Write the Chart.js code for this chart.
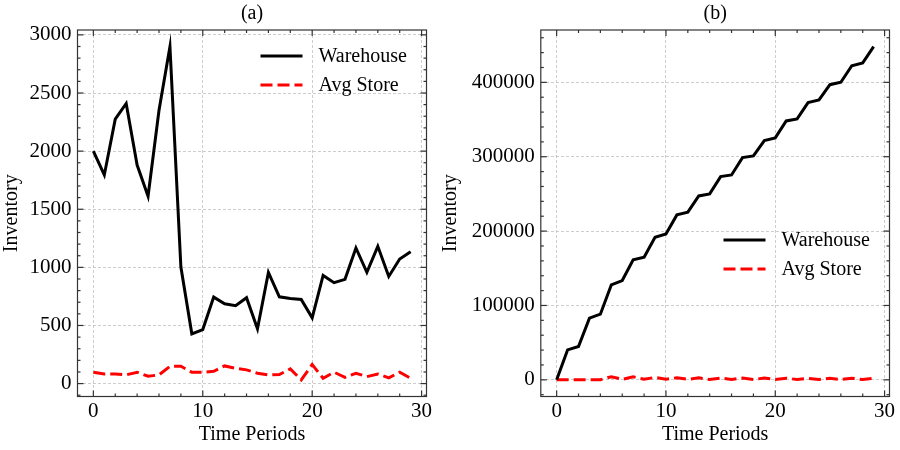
<!DOCTYPE html>
<html>
<head>
<meta charset="utf-8">
<script src="https://cdn.jsdelivr.net/npm/chart.js@4.4.0/dist/chart.umd.min.js"></script>
<style>
  html, body { margin: 0; padding: 0; background: #fff; }
  #wrap { position: relative; width: 900px; height: 450px; overflow: hidden; }
  .box { position: absolute; top: 0; height: 450px; }
</style>
</head>
<body>
<div id="wrap">
  <div class="box" style="left:0; width:450px"><canvas id="chartA" width="450" height="450"></canvas></div>
  <div class="box" style="left:430px; width:470px"><canvas id="chartB" width="470" height="450"></canvas></div>
</div>
<script>
// ---------- Data ----------
const periods = [0, 1, 2, 3, 4, 5, 6, 7, 8, 9, 10, 11, 12, 13, 14, 15, 16, 17, 18, 19, 20, 21, 22, 23, 24, 25, 26, 27, 28, 29];
const seriesNames = ['Warehouse', 'Avg Store'];
const panelTitles = ['(a)', '(b)'];

const warehouseA = [2000, 1795, 2275, 2410, 1880, 1612, 2352, 2899, 1003, 428, 465, 744, 687, 670, 739, 471,
                    957, 747, 733, 724, 566, 931, 868, 897, 1167, 957, 1181, 922, 1072, 1135];
const avgStoreA = [98, 83, 83, 75, 98, 63, 75, 149, 149, 98, 98, 106, 152, 132, 118, 89,
                   75, 78, 126, 32, 164, 46, 98, 54, 89, 60, 83, 49, 98, 46];

const warehouseB = [0, 40300, 44800, 82900, 88300, 127700, 133500, 161300, 164900, 191800, 196200, 221800, 225400,
                    247300, 250000, 273300, 275500, 298800, 301100, 321700, 325300, 348100, 350800, 372700, 376300,
                    396900, 400100, 422400, 426100, 448000];
const avgStoreB = [0, 0, 0, 0, 100, 4200, 700, 4000, 800, 3300, 900, 2800, 600, 2700, 500, 2400,
                   600, 2300, 500, 2300, 600, 2200, 500, 2000, 400, 2000, 400, 2100, 500, 2200];

// tick labels
const xTicks = [0, 10, 20, 30];
const yTicksA = [0, 500, 1000, 1500, 2000, 2500, 3000];
const yTicksB = [0, 100000, 200000, 300000, 400000];

const FONT = '"Liberation Serif", "Times New Roman", serif';
const FS = 20;      // titles and legend
const TICK_FS = 21; // tick labels

// ---------- Frame, inward ticks, title, legend ----------
const framePlugin = {
  id: 'frame',
  afterDraw(chart, args, o) {
    const { ctx, chartArea: a, scales: { x, y } } = chart;
    const line = (x1, y1, x2, y2) => { ctx.beginPath(); ctx.moveTo(x1, y1); ctx.lineTo(x2, y2); ctx.stroke(); };
    ctx.save();
    ctx.strokeStyle = '#333';
    ctx.lineWidth = 1.2;

    const xr = o.xMajor / o.xMinor;
    for (let k = Math.ceil(x.min / o.xMinor); k * o.xMinor <= x.max; k++) {
      const px = x.getPixelForValue(k * o.xMinor);
      const len = k % xr === 0 ? 6 : 3;
      line(px, a.bottom, px, a.bottom - len);
      line(px, a.top, px, a.top + len);
    }
    const yr = o.yMajor / o.yMinor;
    for (let k = Math.ceil(y.min / o.yMinor); k * o.yMinor <= y.max; k++) {
      const py = y.getPixelForValue(k * o.yMinor);
      const len = k % yr === 0 ? 6 : 3;
      line(a.left, py, a.left + len, py);
      line(a.right, py, a.right - len, py);
    }
    ctx.strokeRect(a.left, a.top, a.right - a.left, a.bottom - a.top);

    ctx.fillStyle = '#000';
    ctx.font = FS + 'px ' + FONT;
    ctx.textAlign = 'center';
    ctx.textBaseline = 'middle';
    ctx.fillText(o.title, (a.left + a.right) / 2, 14);

    ctx.textAlign = 'left';
    chart.data.datasets.forEach((ds, i) => {
      const yy = a.top + o.legendTop + i * 29;
      ctx.strokeStyle = ds.borderColor;
      ctx.lineWidth = ds.borderWidth;
      ctx.setLineDash(ds.borderDash || []);
      line(a.right - 166, yy, a.right - 124, yy);
      ctx.setLineDash([]);
      ctx.fillText(ds.label, a.right - 108, yy + 1);
    });
    ctx.restore();
  }
};

function makeChart(id, warehouse, store, cfg) {
  const ctx = document.getElementById(id).getContext('2d');
  return new Chart(ctx, {
    type: 'line',
    data: {
      datasets: [
        {
          label: seriesNames[0],
          data: periods.map((p, i) => ({ x: p, y: warehouse[i] })),
          borderColor: '#000000',
          borderWidth: 3,
          pointRadius: 0,
          tension: 0
        },
        {
          label: seriesNames[1],
          data: periods.map((p, i) => ({ x: p, y: store[i] })),
          borderColor: '#ff0000',
          borderWidth: 3,
          borderDash: [12, 5],
          pointRadius: 0,
          tension: 0
        }
      ]
    },
    options: {
      responsive: false,
      animation: false,
      layout: { padding: { left: cfg.padLeft, right: cfg.padRight, top: 30, bottom: 0 } },
      plugins: {
        legend: { display: false },
        tooltip: { enabled: false },
        frame: cfg.frame
      },
      scales: {
        x: {
          type: 'linear',
          min: -1.45,
          max: 30.45,
          afterFit: s => { s.height = 53.5; },
          afterBuildTicks: s => { s.ticks = xTicks.map(v => ({ value: v })); },
          grid: { color: '#c0c0c0', lineWidth: 0.8, drawTicks: false },
          border: { display: false, dash: [3, 2] },
          ticks: { padding: 2, color: '#000', font: { family: FONT, size: TICK_FS },
                   maxRotation: 0, autoSkip: false, callback: v => String(v) },
          title: { display: true, text: 'Time Periods', color: '#000', font: { family: FONT, size: FS },
                   padding: { top: 0, bottom: 3 } }
        },
        y: {
          min: cfg.yMin,
          max: cfg.yMax,
          afterFit: s => { s.width = cfg.yWidth; },
          afterBuildTicks: s => { s.ticks = cfg.yTicks.map(v => ({ value: v })); },
          grid: { color: '#c0c0c0', lineWidth: 0.8, drawTicks: false },
          border: { display: false, dash: [3, 2] },
          ticks: { padding: 6, color: '#000', autoSkip: false,
                   font: { family: FONT, size: TICK_FS }, callback: v => String(v) },
          title: { display: true, text: 'Inventory', color: '#000', font: { family: FONT, size: FS },
                   padding: { top: 0, bottom: 0 } }
        }
      }
    },
    plugins: [framePlugin]
  });
}

makeChart('chartA', warehouseA, avgStoreA, {
  padLeft: 0, padRight: 23.5, yWidth: 77.5, yMin: -111, yMax: 3042, yTicks: yTicksA,
  frame: { title: panelTitles[0], xMajor: 10, xMinor: 2, yMajor: 500, yMinor: 100, legendTop: 26 }
});

makeChart('chartB', warehouseB, avgStoreB, {
  padLeft: 9, padRight: 10.5, yWidth: 101.8, yMin: -22400, yMax: 470400, yTicks: yTicksB,
  frame: { title: panelTitles[1], xMajor: 10, xMinor: 2, yMajor: 100000, yMinor: 20000, legendTop: 210 }
});
</script>
</body>
</html>
